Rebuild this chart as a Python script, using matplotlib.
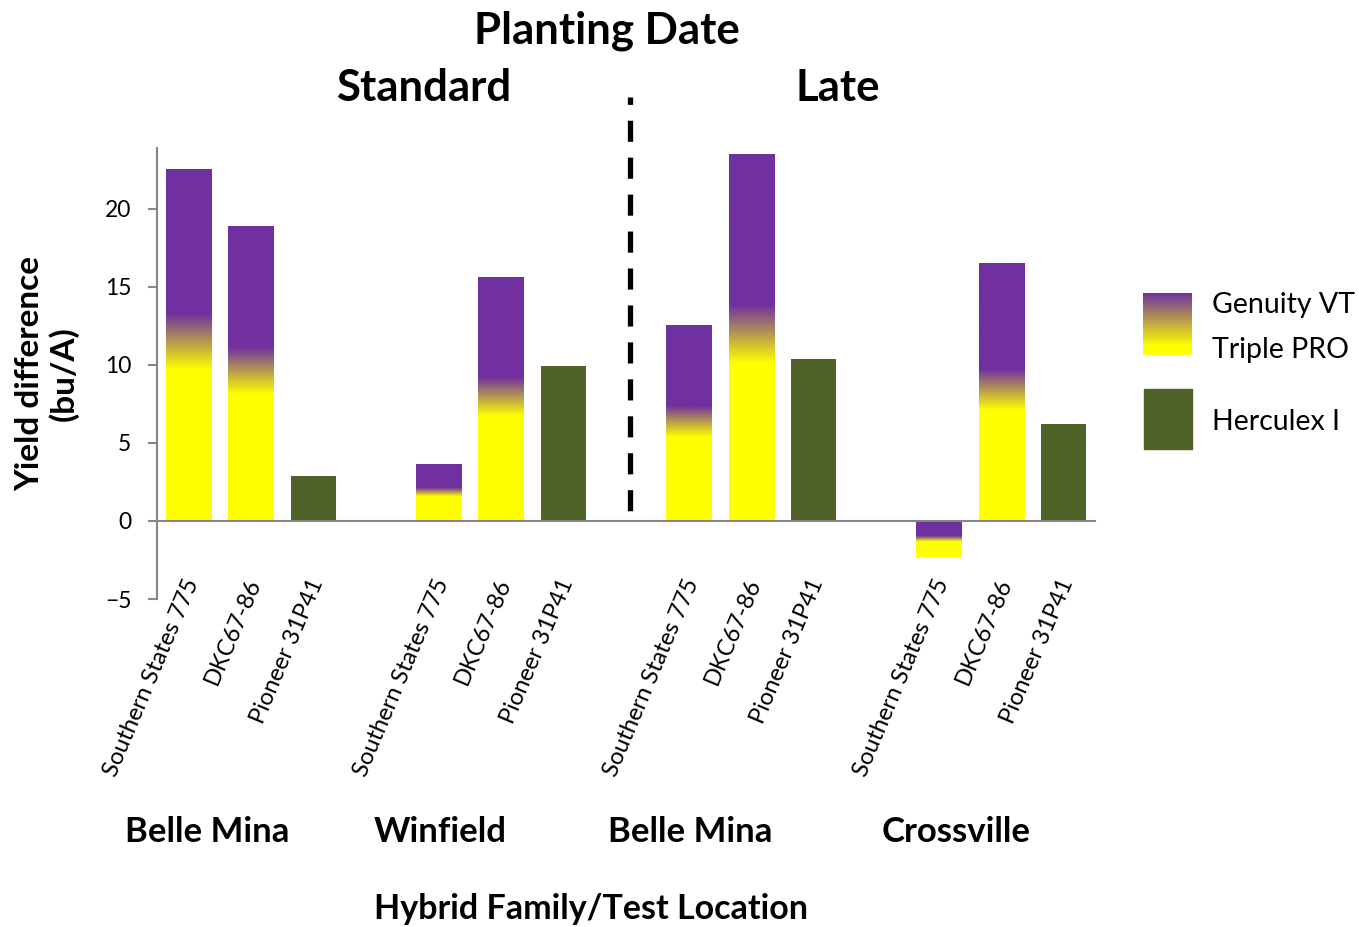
import numpy as np
import matplotlib
matplotlib.use("Agg")
import matplotlib.pyplot as plt
from matplotlib.colors import LinearSegmentedColormap

plt.rcParams['font.family'] = ['Lato', 'DejaVu Sans']

# data
hybrids = ["Southern States 775", "DKC67-86", "Pioneer 31P41"] * 4
locations = ["Belle Mina", "Winfield", "Belle Mina", "Crossville"]
dates = ["Standard", "Late"]
traits = ["VT3P", "VT3P", "HX1"] * 4
yield_diff = [22.5, 18.9, 2.9, 3.6, 15.6, 9.9, 12.5, 23.5, 10.4, -2.3, 16.5, 6.2]

purple = "#7030A0"
yellow = "#FFFF00"
green = "#4F6228"
grey = "#868686"

# bars sit in slots 0..14 with an empty slot between location groups
pos = [i + i // 3 for i in range(len(yield_diff))]

W, H = 1359, 927
fig = plt.figure(figsize=(W / 100, H / 100), dpi=100)
ax = fig.add_axes([157 / W, (H - 599) / H, 938 / W, 451 / H])

grad = LinearSegmentedColormap.from_list(
    "vt3p", [(0, yellow), (0.43, yellow), (0.59, purple), (1, purple)])
col = grad(np.linspace(0, 1, 256))[:, None, :3]

bars = ax.bar(pos, yield_diff, width=0.72,
              color=[green if t == "HX1" else "none" for t in traits],
              linewidth=0, zorder=2)
for b, t in zip(bars, traits):
    if t != "VT3P":
        continue
    x0, y0 = b.get_x(), min(b.get_y(), b.get_y() + b.get_height())
    ax.imshow(col, extent=[x0, x0 + b.get_width(), y0, y0 + abs(b.get_height())],
              origin="lower", aspect="auto", interpolation="bilinear", zorder=2)

ax.set_xlim(-0.5, 14.5)
ax.set_ylim(-5, 23.9)
ax.set_aspect("auto")
ax.set_yticks([-5, 0, 5, 10, 15, 20])
ax.set_xticks([])
ax.tick_params(axis="y", direction="out", length=6.5, width=1.5, color=grey,
               labelsize=16.5, pad=12)
for s in ["top", "right"]:
    ax.spines[s].set_visible(False)
ax.spines["left"].set_color(grey)
ax.spines["left"].set_linewidth(1.5)
ax.spines["bottom"].set_position(("data", 0))
ax.spines["bottom"].set_color(grey)
ax.spines["bottom"].set_linewidth(1.5)
ax.spines["bottom"].set_zorder(3)

for p, h in zip(pos, hybrids):
    ax.text(p + 0.07, -3.75, h, rotation=67, rotation_mode="anchor",
            ha="right", va="center", fontsize=17)

# dashed separator between planting dates
ax.plot([7.06, 7.06], [27.2, 0.55], color="black", lw=3.8,
        linestyle=(2.6, (4, 3)), dash_capstyle="butt", clip_on=False)

ax.set_ylabel("Yield difference\n(bu/A)", fontsize=24, fontweight="bold",
              linespacing=1.15)
ax.yaxis.set_label_coords(-0.083, 0.5)

def ftext(x, y, s, **kw):
    fig.text(x / W, 1 - y / H, s, ha="center", va="center", **kw)

ftext(607, 31, "Planting Date", fontsize=31.5, fontweight="bold")
ftext(424, 88, dates[0], fontsize=31.5, fontweight="bold")
ftext(838, 88, dates[1], fontsize=31.5, fontweight="bold")
for x, loc in zip([207, 440, 690, 956], locations):
    ftext(x, 832, loc, fontsize=25, fontweight="bold")
ftext(591, 909, "Hybrid Family/Test Location", fontsize=24.5, fontweight="bold")

# legend drawn by hand
lg = fig.add_axes([1143 / W, (H - 355) / H, 49 / W, 62 / H])
lcol = LinearSegmentedColormap.from_list(
    "leg", [(0, yellow), (0.15, yellow), (1, purple)])(np.linspace(0, 1, 256))[:, None, :3]
lg.imshow(lcol, origin="lower", aspect="auto", extent=[0, 1, 0, 1])
lg.axis("off")
fig.patches.append(plt.Rectangle((1144 / W, 1 - 449 / H), 48 / W, 60 / H,
                                 transform=fig.transFigure, color=green))
for y, s in [(305, "Genuity VT"), (350, "Triple PRO"), (422, "Herculex I")]:
    fig.text(1212 / W, 1 - y / H, s, ha="left", va="center", fontsize=20.5)

fig.savefig("out.png", dpi=100)
